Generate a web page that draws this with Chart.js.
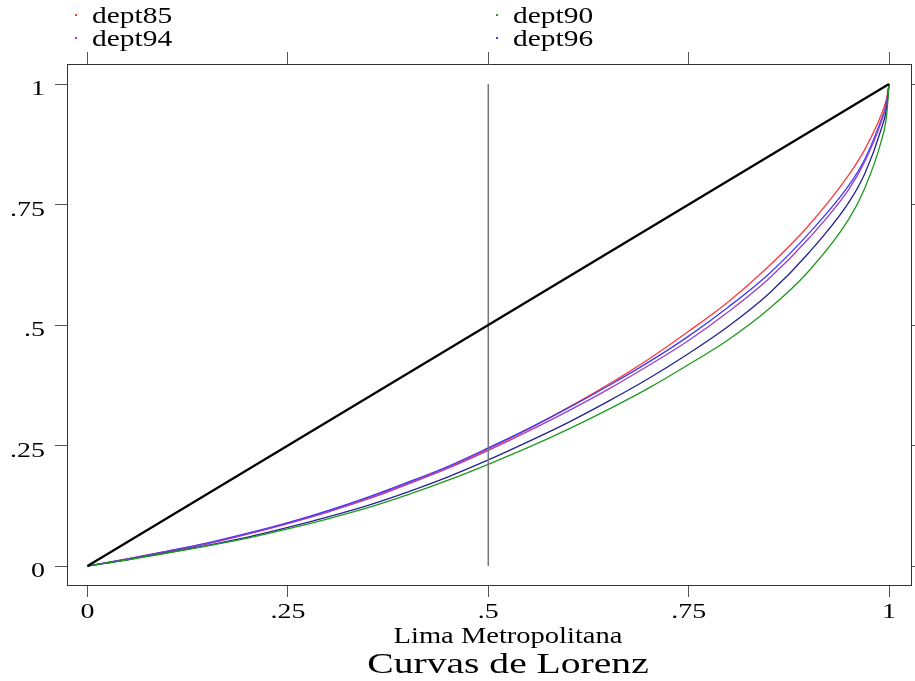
<!DOCTYPE html>
<html>
<head>
<meta charset="utf-8">
<script src="https://cdn.jsdelivr.net/npm/chart.js@4.4.1/dist/chart.umd.min.js"></script>
<style>
  html, body { margin: 0; padding: 0; background: #ffffff; }
  #wrap { width: 915px; height: 681px; }
</style>
</head>
<body>
<div id="wrap"><canvas id="lorenz" width="915" height="681"></canvas></div>
<script>
// Cumulative population share (x) and cumulative income share (y) per survey year
const popShare = [0, 0.05, 0.10, 0.15, 0.20, 0.25, 0.30, 0.35, 0.40, 0.45, 0.50,
                  0.55, 0.60, 0.65, 0.70, 0.75, 0.80, 0.85, 0.90, 0.95, 0.97, 0.99, 0.997, 1];

const dept85 = [0, 0.015, 0.031, 0.047, 0.067, 0.089, 0.114, 0.141, 0.172, 0.205, 0.243,
                0.284, 0.329, 0.377, 0.429, 0.487, 0.549, 0.622, 0.707, 0.812, 0.865, 0.935, 0.970, 1];
const dept90 = [0, 0.013, 0.027, 0.042, 0.058, 0.077, 0.098, 0.121, 0.148, 0.178, 0.211,
                0.246, 0.284, 0.325, 0.369, 0.418, 0.470, 0.533, 0.612, 0.720, 0.785, 0.880, 0.935, 1];
const dept94 = [0, 0.014, 0.030, 0.046, 0.066, 0.088, 0.112, 0.139, 0.170, 0.203, 0.240,
                0.280, 0.322, 0.367, 0.416, 0.468, 0.528, 0.596, 0.680, 0.782, 0.840, 0.920, 0.960, 1];
const dept96 = [0, 0.015, 0.031, 0.048, 0.068, 0.090, 0.115, 0.143, 0.174, 0.207, 0.245,
                0.285, 0.328, 0.374, 0.423, 0.477, 0.538, 0.606, 0.690, 0.790, 0.845, 0.925, 0.962, 1];
const deptOtro = [0, 0.013, 0.028, 0.043, 0.060, 0.080, 0.102, 0.126, 0.154, 0.185, 0.220,
                  0.258, 0.298, 0.342, 0.389, 0.441, 0.498, 0.565, 0.650, 0.755, 0.815, 0.905, 0.950, 1];

// Line of perfect equality and the median marker
const equalityX = [0, 1];
const equalityY = [0, 1];
const medianX = [0.5, 0.5];
const medianY = [0, 1];

// Axis ticks
const tickValues = [0, 0.25, 0.5, 0.75, 1];
const tickLabels = ['0', '.25', '.5', '.75', '1'];

// Legend keys, two per row
const legendOrder = ['dept85', 'dept90', 'dept94', 'dept96'];

const xTitle = 'Lima Metropolitana';
const chartTitle = 'Curvas de Lorenz';

const pairs = (xs, ys) => xs.map((x, i) => ({ x: x, y: ys[i] }));

const SERIF = '"Liberation Serif", "DejaVu Serif", serif';

// Text in the wide serif face of the plot
function wideText(ctx, text, x, y, size, align, sx) {
  ctx.save();
  ctx.font = size + 'px ' + SERIF;
  ctx.textBaseline = 'alphabetic';
  ctx.textAlign = 'left';
  ctx.fillStyle = '#000000';
  const w = ctx.measureText(text).width * sx;
  const left = align === 'center' ? x - w / 2 : (align === 'right' ? x - w : x);
  ctx.translate(left, y);
  ctx.scale(sx, 1);
  ctx.fillText(text, 0, 0);
  ctx.restore();
}

// Tick labels, titles and legend
const textPlugin = {
  id: 'stataText',
  afterDraw(chart) {
    const ctx = chart.ctx;
    const xs = chart.scales.x;
    const ys = chart.scales.y;
    xs.ticks.forEach((t, i) => {
      wideText(ctx, tickLabels[i], xs.getPixelForValue(t.value), 618, 22, 'center', 1.27);
    });
    ys.ticks.forEach((t, i) => {
      wideText(ctx, tickLabels[i], 45, ys.getPixelForValue(t.value) + 11, 22, 'right', 1.27);
    });
    wideText(ctx, xTitle, 508, 643, 23, 'center', 1.24);
    wideText(ctx, chartTitle, 508, 673, 30, 'center', 1.32);

    const cols = [76, 497];
    const rows = [23, 46];
    legendOrder.forEach((name, i) => {
      const d = chart.data.datasets.find(ds => ds.label === name);
      const cx = cols[i % 2];
      const by = rows[Math.floor(i / 2)];
      ctx.save();
      ctx.fillStyle = d.borderColor;
      ctx.fillRect(cx - 1, by - 9, 2, 2);
      ctx.restore();
      wideText(ctx, d.label, cx + 16, by, 23, 'left', 1.28);
    });
  }
};

const fixTicks = (scale) => { scale.ticks = tickValues.map(v => ({ value: v })); };

const axisCommon = {
  type: 'linear',
  afterBuildTicks: fixTicks,
  ticks: { display: false },
  grid: { drawOnChartArea: false, drawTicks: true, tickLength: 12, color: '#555555', lineWidth: 1 },
  border: { display: true, color: '#333333', width: 1 }
};

const curve = (label, ys, color) => ({
  label: label,
  data: pairs(popShare, ys),
  borderColor: color,
  backgroundColor: color,
  borderWidth: 1.3,
  pointRadius: 0,
  showLine: true,
  cubicInterpolationMode: 'monotone'
});

new Chart(document.getElementById('lorenz'), {
  type: 'scatter',
  data: {
    datasets: [
      {
        label: 'igualdad', data: pairs(equalityX, equalityY), borderColor: '#000000',
        borderWidth: 2.2, pointRadius: 0, showLine: true
      },
      {
        label: 'mediana', data: pairs(medianX, medianY), borderColor: '#777777',
        borderWidth: 1.5, pointRadius: 0, showLine: true
      },
      curve('dept90', dept90, '#1f9a1f'),
      curve('otro', deptOtro, '#23238f'),
      curve('dept94', dept94, '#9a3fc8'),
      curve('dept96', dept96, '#3a3aff'),
      curve('dept85', dept85, '#ff3a3a')
    ]
  },
  options: {
    responsive: false,
    animation: false,
    layout: { padding: 0 },
    plugins: { legend: { display: false }, title: { display: false }, tooltip: { enabled: false } },
    scales: {
      x: Object.assign({}, axisCommon, {
        position: 'bottom', min: -0.0256, max: 1.0274,
        afterFit: (s) => { s.height = 96; }
      }),
      x2: Object.assign({}, axisCommon, {
        position: 'top', min: -0.0256, max: 1.0274,
        afterFit: (s) => { s.height = 64; }
      }),
      y: Object.assign({}, axisCommon, {
        position: 'left', min: -0.0394, max: 1.0415,
        afterFit: (s) => { s.width = 67; }
      }),
      y2: Object.assign({}, axisCommon, {
        position: 'right', min: -0.0394, max: 1.0415,
        afterFit: (s) => { s.width = 4; }
      })
    }
  },
  plugins: [textPlugin]
});
</script>
</body>
</html>
